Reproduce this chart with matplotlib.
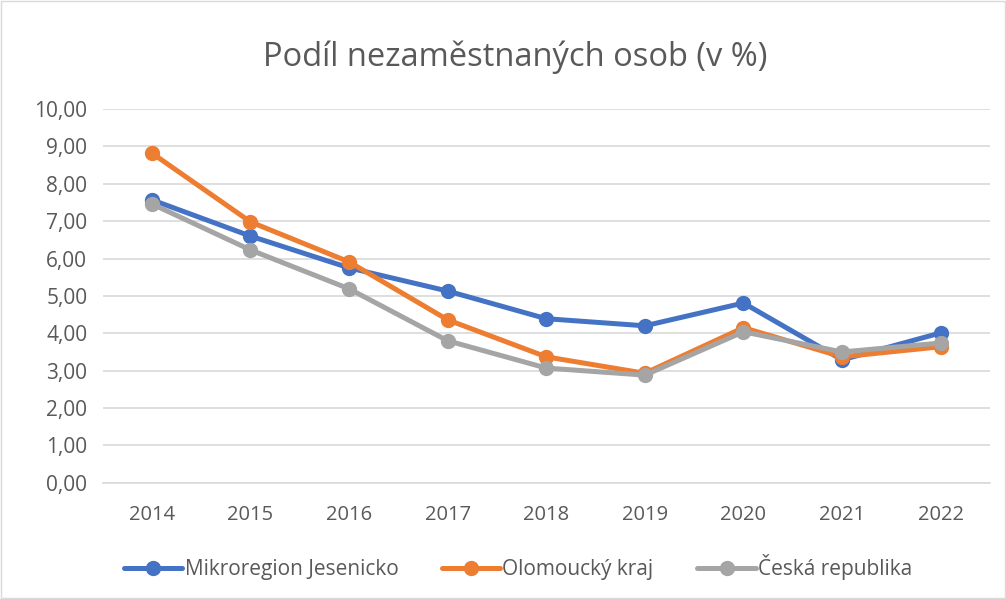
import matplotlib
matplotlib.use('Agg')
import matplotlib.pyplot as plt

years = ['2014', '2015', '2016', '2017', '2018', '2019', '2020', '2021', '2022']
jesenicko = [7.57, 6.60, 5.75, 5.13, 4.39, 4.20, 4.81, 3.29, 4.01]
olomoucky = [8.82, 6.98, 5.91, 4.36, 3.37, 2.93, 4.15, 3.37, 3.64]
cr = [7.46, 6.23, 5.19, 3.80, 3.07, 2.88, 4.04, 3.50, 3.74]
y_ticks = [0, 1, 2, 3, 4, 5, 6, 7, 8, 9, 10]

plt.rcParams['font.family'] = ['Open Sans', 'DejaVu Sans']
txt = '#595959'

fig = plt.figure(figsize=(10.06, 5.99), dpi=100)
ax = fig.add_axes([0.102, 0.194, 0.882, 0.624])

x = range(len(years))
series = [
    (jesenicko, '#4472C4', 'Mikroregion Jesenicko'),
    (olomoucky, '#ED7D31', 'Olomoucký kraj'),
    (cr, '#A5A5A5', 'Česká republika'),
]
for vals, col, lab in series:
    ax.plot(x, vals, color=col, lw=3.6, marker='o', ms=10, label=lab,
            solid_capstyle='round', solid_joinstyle='round')

ax.set_xlim(-0.5, len(years) - 0.5)
ax.set_ylim(0, 10)
ax.set_yticks(y_ticks)
ax.set_yticklabels([f'{v:.2f}'.replace('.', ',') for v in y_ticks])
ax.set_xticks(list(x))
ax.set_xticklabels(years)
ax.grid(axis='y', color='#D9D9D9', lw=1.2)
ax.set_axisbelow(True)
for s in ['top', 'right', 'left']:
    ax.spines[s].set_visible(False)
ax.spines['bottom'].set_color('#D9D9D9')
ax.spines['bottom'].set_linewidth(1.2)
ax.tick_params(length=0, labelsize=14.5, colors=txt, pad=11)
ax.tick_params(axis='x', pad=16)
ax.tick_params(axis='y', labelsize=15)

fig.text(0.512, 0.905, 'Podíl nezaměstnaných osob (v %)', ha='center', va='center',
         fontsize=23.5, color=txt)

leg = fig.legend(loc='center', bbox_to_anchor=(0.515, 0.053), ncol=3, frameon=False,
                 fontsize=15, handlelength=2.8, handletextpad=0.1, columnspacing=2.1)
for t in leg.get_texts():
    t.set_color(txt)

# outer border
fig.patches.append(plt.Rectangle((0.001, 0.001), 0.998, 0.997, transform=fig.transFigure,
                                 fill=False, edgecolor='#D9D9D9', lw=1))

fig.savefig('out.png', dpi=100)
